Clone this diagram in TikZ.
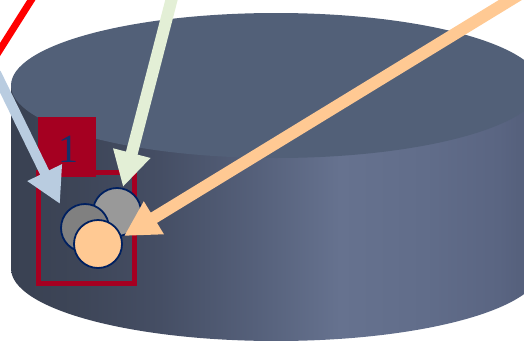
\documentclass[tikz,border=0pt]{standalone}
\usepackage{fontspec}
\setmainfont{Liberation Serif}
\usetikzlibrary{arrows.meta}
\definecolor{topface}{HTML}{526078}
\definecolor{darkred}{HTML}{A50021}
\definecolor{navy}{HTML}{002060}
\definecolor{labelnavy}{HTML}{14306A}
\definecolor{arrblue}{HTML}{B9CCE0}
\definecolor{arrgreen}{HTML}{E3EFD6}
\definecolor{arrpeach}{HTML}{FFC993}
\definecolor{peach}{HTML}{FFC993}
\definecolor{grayA}{HTML}{999999}
\definecolor{grayB}{HTML}{808080}
\definecolor{sA}{HTML}{394152}
\definecolor{sB}{HTML}{3D4557}
\definecolor{sC}{HTML}{454E64}
\definecolor{sD}{HTML}{55607A}
\definecolor{sE}{HTML}{66728F}
\definecolor{sF}{HTML}{616D8A}
\definecolor{sG}{HTML}{5A6582}
\definecolor{sH}{HTML}{515C77}
% path box x 11..541 mapped to 25bp..75bp
\pgfdeclarehorizontalshading{cylside}{100bp}{color(0bp)=(sA); color(25bp)=(sA); color(31bp)=(sB); color(39bp)=(sC); color(48bp)=(sD); color(56bp)=(sE); color(64bp)=(sF); color(71bp)=(sG); color(75bp)=(sH); color(100bp)=(sH)}
\tikzset{
  circ/.style={circle, draw=navy, line width=1.8pt, inner sep=0pt, minimum size=48pt},
  fatarrow/.style={line width=#1, -{Triangle[length=35pt, width=36pt]}},
}
\begin{document}
\begin{tikzpicture}[x=1pt, y=-1pt]
\useasboundingbox (0,0) rectangle (524,340);
\clip (0,0) rectangle (524,340);
% cylinder side
\shade[shading=cylside] (11,85.5) -- (11,268.5) arc[start angle=180, end angle=360, x radius=265, y radius=-72.5] -- (541,85.5) -- cycle;
% top face
\fill[topface] (276,85.5) ellipse[x radius=265, y radius=72.5];
% frame and label
\draw[darkred, line width=5pt] (38,172) rectangle (134,283);
\node[fill=darkred, minimum width=58pt, minimum height=60pt, inner sep=0pt, anchor=north west] (lbl) at (38,117) {};
\node[text=labelnavy, font=\fontsize{40}{40}\selectfont, inner sep=0pt] (one) at (68,149) {1};
% circles
\node[circ, fill=grayA] (c1) at (117,212) {};
\node[circ, fill=grayB] (c2) at (85,228) {};
\node[circ, fill=peach] (c3) at (98,244) {};
% free ends and tips
\coordinate (rs) at (-6,59);
\coordinate (re) at (37,-9);
\coordinate (bs) at (-4,73);
\coordinate (bt) at (60,204);
\coordinate (gs) at (173,-6);
\coordinate (gt) at (123,187);
\coordinate (ps) at (530,-12);
\coordinate (pt) at (124,236);
\draw[red, line width=7pt] (rs) -- (re);
\draw[arrblue, fatarrow=10pt] (bs) -- (bt);
\draw[arrgreen, fatarrow=12pt] (gs) -- (gt);
\draw[arrpeach, fatarrow=12pt] (ps) -- (pt);
\end{tikzpicture}
\end{document}
